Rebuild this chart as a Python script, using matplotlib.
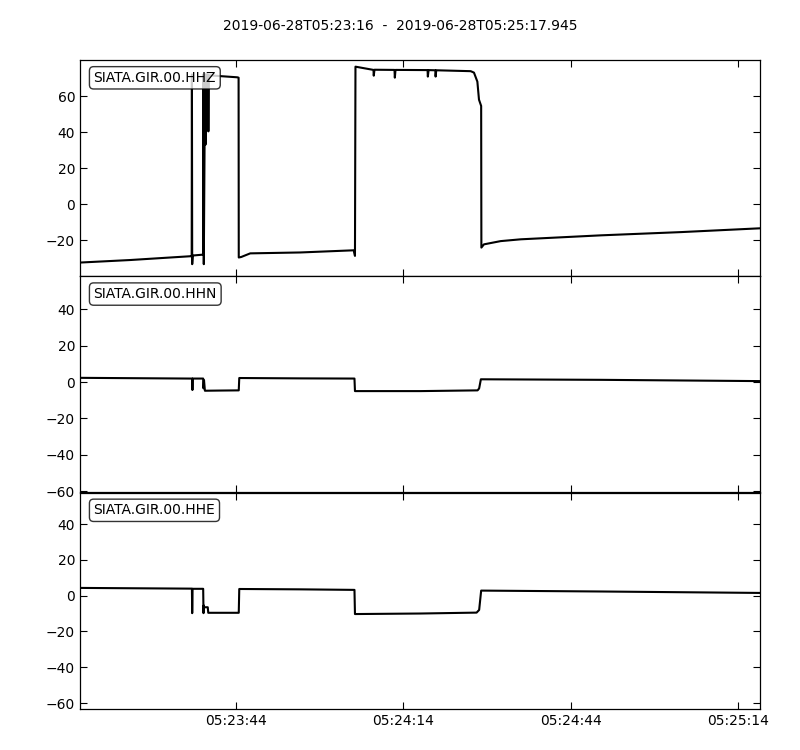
import numpy as np
import matplotlib
matplotlib.use("Agg")
import matplotlib.pyplot as plt
import matplotlib.dates as mdates

# Config
start = np.datetime64("2019-06-28T05:23:16.000")
end = np.datetime64("2019-06-28T05:25:17.945")
title = "2019-06-28T05:23:16  -  2019-06-28T05:25:17.945"

# seconds after start / counts (steps keep the same time twice)
hhz_t = [0, 8.98, 19.76, 20.03, 20.07, 20.12, 20.21, 22.09, 22.15, 22.20, 22.42, 22.50,
         22.62, 22.96, 23.02, 23.10, 28.20, 28.44, 28.47, 28.92, 30.53, 39.52,
         49.09, 49.31, 49.40, 52.63, 52.68, 52.81, 56.40, 56.46, 56.58, 62.33, 62.38,
         62.51, 63.72, 63.77, 63.89, 70.06, 70.65, 71.26, 71.55, 71.94, 71.98, 72.44,
         75.44, 79.04, 93.41, 107.78, 121.9]
hhz_v = [-32.4, -31.0, -28.9, -29.0, 72.0, -33.3, -28.5, -28.0, 72.0, -33.3, 72.0, 33.0,
         72.0, 71.8, 40.4, 71.5, 70.4, 70.2, -29.6, -29.3, -27.3, -26.8,
         -25.6, -28.7, 76.3, 74.5, 71.3, 74.6, 74.5, 70.2, 74.5, 74.4, 70.8,
         74.4, 74.3, 70.8, 74.3, 73.8, 73.0, 68.0, 58.0, 54.5, -24.1, -22.3,
         -20.5, -19.5, -17.3, -15.5, -13.4]

hhn_t = [0, 19.76, 20.12, 20.16, 20.21, 22.09, 22.15, 22.24, 22.40, 25.15, 28.47,
         28.56, 39.52, 49.22, 49.31, 61.06, 71.30, 71.58, 71.89, 93.41, 121.9]
hhn_v = [2.3, 1.9, 1.9, -4.4, 1.9, 1.9, -3.5, 1.0, -4.8, -4.7, -4.6,
         2.2, 2.0, 1.9, -5.0, -5.0, -4.6, -3.5, 1.5, 1.2, 0.5]

hhe_t = [0, 19.76, 20.07, 20.12, 20.19, 22.09, 22.15, 22.19, 22.27, 22.91, 23.00,
         28.47, 28.56, 39.52, 49.22, 49.31, 61.06, 71.12, 71.58, 71.94, 93.41, 121.9]
hhe_v = [4.3, 3.9, 3.9, -9.8, 3.8, 3.8, -9.8, -5.5, -6.5, -6.5, -9.6,
         -9.6, 3.7, 3.5, 3.2, -10.3, -10.0, -9.5, -8.0, 2.8, 2.3, 1.5]

traces = [
    {'id': 'SIATA.GIR.00.HHZ', 't': hhz_t, 'v': hhz_v, 'ylim': (-40, 80),
     'yticks': [-20, 0, 20, 40, 60]},
    {'id': 'SIATA.GIR.00.HHN', 't': hhn_t, 'v': hhn_v, 'ylim': (-60.8, 58.2),
     'yticks': [-60, -40, -20, 0, 20, 40]},
    {'id': 'SIATA.GIR.00.HHE', 't': hhe_t, 'v': hhe_v, 'ylim': (-63.2, 57.6),
     'yticks': [-60, -40, -20, 0, 20, 40]},
]

plt.rcParams['xtick.direction'] = 'in'
plt.rcParams['ytick.direction'] = 'in'
plt.rcParams['xtick.top'] = True
plt.rcParams['ytick.right'] = True
plt.rcParams['xtick.major.size'] = 5
plt.rcParams['ytick.major.size'] = 5
plt.rcParams['axes.linewidth'] = 0.9
plt.rcParams['font.size'] = 10

fig, axes = plt.subplots(3, 1, figsize=(8, 7.5), dpi=100, sharex=True)
fig.subplots_adjust(left=0.1, right=0.95, top=0.92, bottom=0.055, hspace=0)

for ax, tr in zip(axes, traces):
    times = start + (np.array(tr['t']) * 1000).astype('timedelta64[ms]')
    ax.plot(times, tr['v'], color='k', linewidth=1.5)
    ax.set_ylim(*tr['ylim'])
    ax.set_yticks(tr['yticks'])
    ax.text(0.02, 0.95, tr['id'], transform=ax.transAxes, fontsize=10,
            ha='left', va='top',
            bbox=dict(boxstyle="round", fc="w", alpha=0.8))

axes[-1].set_xlim(start, end)
axes[-1].xaxis.set_major_locator(mdates.SecondLocator(bysecond=[14, 44]))
axes[-1].xaxis.set_major_formatter(mdates.DateFormatter('%H:%M:%S'))

fig.suptitle(title, fontsize=10, y=0.975)

plt.savefig("out.png", dpi=100)
